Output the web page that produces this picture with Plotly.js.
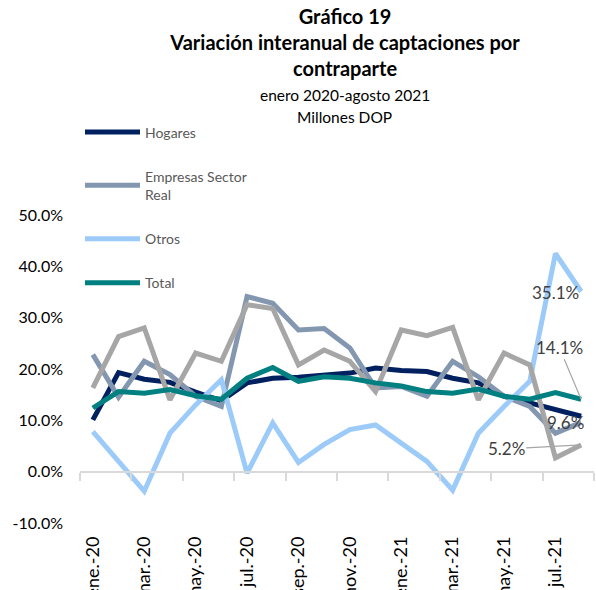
<!DOCTYPE html>
<html>
<head>
<meta charset="utf-8">
<script src="https://cdn.plot.ly/plotly-3.0.1.min.js"></script>
<style>html,body{margin:0;padding:0;background:#fff;}#chart{width:596px;height:590px;}</style>
</head>
<body>
<div id="chart"></div>
<script>
const months = ["ene.-20","feb.-20","mar.-20","abr.-20","may.-20","jun.-20","jul.-20","ago.-20","sep.-20","oct.-20","nov.-20","dic.-20",
                "ene.-21","feb.-21","mar.-21","abr.-21","may.-21","jun.-21","jul.-21","ago.-21"];
const hogares  = [10.1,19.3,18.0,17.4,15.5,13.8,17.3,18.2,18.4,18.9,19.2,20.2,19.7,19.5,18.2,17.3,14.7,13.4,12.1,10.8];
const empresas = [22.8,14.5,21.5,18.9,14.7,12.7,34.1,32.8,27.6,27.9,24.1,16.3,16.6,14.7,21.5,18.5,14.7,12.7,7.5,9.6];
const otros    = [7.8,2.0,-3.8,7.5,13.0,17.9,-0.3,9.5,1.8,5.3,8.2,9.1,5.6,2.0,-3.6,7.5,12.7,17.6,42.5,35.1];
const otraSerie= [16.3,26.3,28.0,14.0,23.1,21.5,32.5,31.8,20.8,23.7,21.5,15.6,27.6,26.5,28.1,14.0,23.1,20.8,2.7,5.2];
const total    = [12.4,15.6,15.3,16.0,14.8,14.1,18.2,20.3,17.6,18.5,18.2,17.3,16.7,15.6,15.3,16.1,14.7,14.1,15.4,14.1];
const yTicks = [-10,0,10,20,30,40,50];
const yMin = -10, yMax = 50;

const font = "Lato, 'Open Sans', sans-serif";
const lw = 5;
function tr(name, y, color, extra){
  return Object.assign({type:'scatter', mode:'lines', x: months, y: y, name: name,
    line:{color: color, width: lw, shape:'linear'}, hoverinfo:'skip'}, extra||{});
}
const traces = [
  tr("Hogares", hogares, "#002060", {legendgroup:'a'}),
  tr("Empresas Sector<br>Real", empresas, "#8497b0", {legendgroup:'b'}),
  tr("Otros", otros, "#9dcbf9", {legendgroup:'c'}),
  tr("Otra contraparte", otraSerie, "#a6a6a6", {showlegend:false, legendgroup:'e', xaxis:'x2'}),
  tr("Total", total, "#008080", {legendgroup:'d', xaxis:'x2'})
];

const last = months.length - 1;
const lblFont = {family: font, size: 17, color: "#404040"};
const subFont = {family: font, size: 15.5, color: "#000"};
const annotations = [
  {x: months[last], y: otros[last], xref:'x', yref:'y', text: otros[last].toFixed(1)+"%", showarrow:false, xshift:-26, yshift:-1, font: lblFont},
  {x: months[last], y: total[last], xref:'x', yref:'y', text: total[last].toFixed(1)+"%", showarrow:true, arrowhead:0, arrowwidth:1.2, arrowcolor:"#a6a6a6", ax:-22, ay:-52, font: lblFont},
  {x: months[last], y: empresas[last], xref:'x', yref:'y', text: empresas[last].toFixed(1)+"%", showarrow:false, xshift:-16, yshift:0, font: lblFont},
  {x: months[last], y: otraSerie[last], xref:'x', yref:'y', text: otraSerie[last].toFixed(1)+"%", showarrow:true, arrowhead:0, arrowwidth:1.2, arrowcolor:"#a6a6a6", ax:-75, ay:4, font: lblFont},
  {x: 0.515, y: 1.39, xref:'paper', yref:'paper', xanchor:'center', yanchor:'middle', text:"enero 2020-agosto 2021", showarrow:false, font: subFont},
  {x: 0.515, y: 1.318, xref:'paper', yref:'paper', xanchor:'center', yanchor:'middle', text:"Millones DOP", showarrow:false, font: subFont}
];

const layout = {
  width: 596, height: 590,
  paper_bgcolor: '#fff', plot_bgcolor: '#fff',
  margin: {l: 80, r: 2, t: 215, b: 67},
  font: {family: font, color: '#000'},
  title: {
    text: "<b>Gráfico 19</b><br><b>Variación interanual de captaciones por</b><br><b>contraparte</b>",
    x: 0.579, xanchor: 'center', xref: 'container',
    y: 0.9586, yanchor: 'top', yref: 'container',
    font: {family: font, size: 20, color: '#000'}
  },
  showlegend: true,
  legend: {x: 0, xanchor: 'left', y: 1.32, yanchor: 'top', orientation: 'v', itemwidth: 55,
    font: {family: font, size: 14, color: '#595959'}, tracegroupgap: 23, bgcolor: 'rgba(0,0,0,0)', traceorder: 'grouped'},
  xaxis: {type: 'category', categoryorder: 'array', categoryarray: months, range: [-0.5, last + 0.5],
    showline: false, ticks: '', showgrid: false, zeroline: false, dtick: 2, tickangle: -90,
    tickfont: {family: font, size: 18, color: '#000'}, ticklabelstandoff: 9, automargin: false, fixedrange: true},
  xaxis2: {type: 'category', categoryorder: 'array', categoryarray: months, range: [-0.5, last + 0.5],
    overlaying: 'x', anchor: 'free', position: (0 - yMin) / (yMax - yMin), side: 'bottom',
    showline: true, linecolor: '#d9d9d9', linewidth: 2, ticks: 'outside', ticklen: 8, tickwidth: 2, tickcolor: '#d9d9d9',
    tickson: 'boundaries', dtick: 2, showticklabels: false, showgrid: false, zeroline: false, automargin: false},
  yaxis: {range: [yMin, yMax], tickvals: yTicks, ticktext: yTicks.map(v => v.toFixed(1) + "%"),
    showgrid: false, zeroline: false, showline: false, ticks: '',
    tickfont: {family: font, size: 16, color: '#000'}, ticklabelstandoff: 16, automargin: false},
  annotations: annotations
};

Plotly.newPlot('chart', traces, layout, {staticPlot: true, displayModeBar: false});
</script>
</body>
</html>
